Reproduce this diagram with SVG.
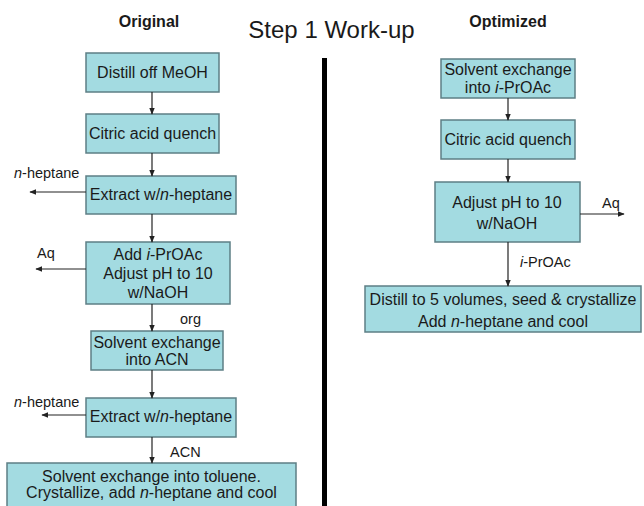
<svg xmlns="http://www.w3.org/2000/svg" width="644" height="506" viewBox="0 0 644 506">
  <defs>
    <marker id="arrow" viewBox="0 0 10 10" refX="9" refY="5" markerWidth="7" markerHeight="7" orient="auto" markerUnits="userSpaceOnUse">
      <path d="M0,1 L10,5 L0,9 z" fill="#222"/>
    </marker>
  </defs>
  <style>
    text { font-family: "Liberation Sans", Arial, sans-serif; fill: #1a1a1a; }
    .box { fill: #a3dbe1; stroke: #5d7f85; stroke-width: 1.5; }
    .bt { font-size: 16px; text-anchor: middle; }
    .lbl { font-size: 14.5px; }
    .head { font-size: 16px; font-weight: bold; text-anchor: middle; }
    .title { font-size: 24px; text-anchor: middle; }
    .conn line { stroke: #222; stroke-width: 1.2; marker-end: url(#arrow); }
  </style>
  <rect width="644" height="506" fill="#ffffff"/>

  <!-- headings -->
  <text class="head" x="149" y="27">Original</text>
  <text class="title" x="331.5" y="38">Step 1 Work-up</text>
  <text class="head" x="508" y="27">Optimized</text>

  <!-- divider between the two routes -->
  <rect x="322" y="58" width="5" height="448" fill="#000"/>

  <!-- original route -->
  <g id="o1"><rect class="box" x="86" y="53" width="133" height="39"/><text class="bt" x="152.5" y="78">Distill off MeOH</text></g>
  <g id="o2"><rect class="box" x="86" y="114" width="133" height="39"/><text class="bt" x="152.5" y="139">Citric acid quench</text></g>
  <g id="o3"><rect class="box" x="86" y="176" width="150" height="38"/><text class="bt" x="161" y="200">Extract w/<tspan font-style="italic">n</tspan>-heptane</text></g>
  <g id="o4"><rect class="box" x="86" y="242" width="144" height="62"/>
    <text class="bt" x="158" y="260">Add <tspan font-style="italic">i</tspan>-PrOAc</text>
    <text class="bt" x="158" y="279">Adjust pH to 10</text>
    <text class="bt" x="158" y="298">w/NaOH</text></g>
  <g id="o5"><rect class="box" x="91" y="331" width="132" height="39"/>
    <text class="bt" x="157" y="348">Solvent exchange</text>
    <text class="bt" x="157" y="365">into ACN</text></g>
  <g id="o6"><rect class="box" x="86" y="398" width="150" height="39"/><text class="bt" x="161" y="422">Extract w/<tspan font-style="italic">n</tspan>-heptane</text></g>
  <g id="o7"><rect class="box" x="7" y="463" width="289" height="50"/>
    <text class="bt" x="151.5" y="482">Solvent exchange into toluene.</text>
    <text class="bt" x="151.5" y="498">Crystallize, add <tspan font-style="italic">n</tspan>-heptane and cool</text></g>

  <!-- optimized route -->
  <g id="p1"><rect class="box" x="441" y="59" width="134" height="39"/>
    <text class="bt" x="508" y="75">Solvent exchange</text>
    <text class="bt" x="508" y="93">into <tspan font-style="italic">i</tspan>-PrOAc</text></g>
  <g id="p2"><rect class="box" x="441" y="120" width="134" height="39"/><text class="bt" x="508" y="145">Citric acid quench</text></g>
  <g id="p3"><rect class="box" x="435" y="182" width="145" height="60"/>
    <text class="bt" x="507" y="208">Adjust pH to 10</text>
    <text class="bt" x="507" y="229">w/NaOH</text></g>
  <g id="p4"><rect class="box" x="365" y="286" width="276" height="46"/>
    <text class="bt" x="503" y="305">Distill to 5 volumes, seed &amp; crystallize</text>
    <text class="bt" x="503" y="327">Add <tspan font-style="italic">n</tspan>-heptane and cool</text></g>

  <!-- connectors -->
  <g id="connectors" class="conn">
    <line x1="152" y1="92" x2="152" y2="114"/>
    <line x1="152" y1="153" x2="152" y2="176"/>
    <line x1="152" y1="214" x2="152" y2="242"/>
    <line x1="152" y1="304" x2="152" y2="331"/>
    <line x1="152" y1="370" x2="152" y2="398"/>
    <line x1="152" y1="437" x2="152" y2="463"/>
    <line x1="86" y1="192" x2="30" y2="192"/>
    <line x1="86" y1="269" x2="36" y2="269"/>
    <line x1="86" y1="415" x2="42" y2="415"/>
    <line x1="508" y1="98" x2="508" y2="120"/>
    <line x1="508" y1="159" x2="508" y2="182"/>
    <line x1="508" y1="242" x2="508" y2="286"/>
    <line x1="580" y1="214" x2="624" y2="214"/>
  </g>

  <!-- stream labels -->
  <g id="labels">
    <text class="lbl" x="14" y="178"><tspan font-style="italic">n</tspan>-heptane</text>
    <text class="lbl" x="37" y="258">Aq</text>
    <text class="lbl" x="180" y="324">org</text>
    <text class="lbl" x="14" y="407"><tspan font-style="italic">n</tspan>-heptane</text>
    <text class="lbl" x="170" y="457">ACN</text>
    <text class="lbl" x="602" y="208">Aq</text>
    <text class="lbl" x="520" y="267"><tspan font-style="italic">i</tspan>-PrOAc</text>
  </g>
</svg>
